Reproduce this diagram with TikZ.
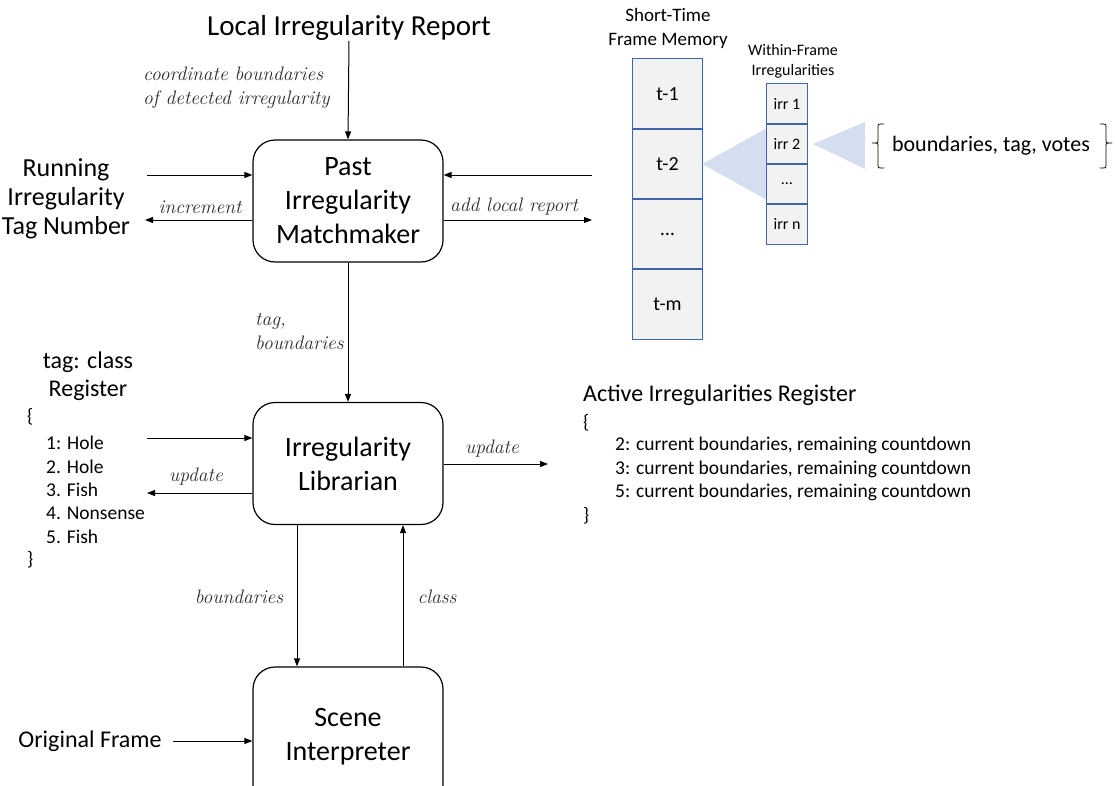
\documentclass[tikz,border=0pt]{standalone}
\usepackage{fontspec}
\setmainfont{Carlito}
\newfontfamily\handfont{Latin Modern Roman}
\usetikzlibrary{arrows.meta}
\definecolor{cellblue}{RGB}{64,100,170}
\definecolor{cellfill}{RGB}{242,242,242}
\definecolor{trifill}{RGB}{212,222,240}
\definecolor{handgray}{RGB}{45,45,45}
\tikzset{
  box/.style={draw, line width=1.2pt, rounded corners=22pt, minimum width=190pt,
    minimum height=122pt, align=center, font=\fontsize{28}{34}\selectfont, inner sep=0pt},
  arr/.style={-{Triangle[length=8pt,width=6pt]}, line width=1pt},
  lbl/.style={font=\fontsize{26}{29}\selectfont, align=center, inner sep=0pt},
  hand/.style={font=\handfont\itshape\fontsize{19.5}{24}\selectfont, text=handgray, align=left, inner sep=0pt},
  cell/.style={fill=cellfill, minimum width=69pt,
    minimum height=70pt, inner sep=0pt, font=\fontsize{20}{24}\selectfont},
  icell/.style={fill=cellfill, minimum width=40pt,
    minimum height=40pt, inner sep=0pt, font=\fontsize{16}{20}\selectfont},
  cellline/.style={draw=cellblue, line width=1.3pt},
  reg/.style={font=\fontsize{19.5}{23.5}\selectfont, anchor=west, inner sep=0pt},
  bracestyle/.style={line width=0.8pt, line cap=round, line join=round}
}
\begin{document}
\begin{tikzpicture}[x=1pt,y=-1pt]
\clip (0,0) rectangle (1115,785);
\useasboundingbox (0,0) rectangle (1115,785);

% main boxes
\node[box] (pim) at (348,201) {Past\\Irregularity\\Matchmaker};
\node[box] (pil) at (348,463.5) {Irregularity\\Librarian};
\node[box, minimum height=140pt] (psi) at (348,737) {Scene\\Interpreter};

% title
\node[lbl, font=\fontsize{29}{35}\selectfont] (lir) at (349,28) {Local Irregularity Report};
\draw[arr] (lir.south) -- (pim.north);
\node[hand, anchor=north west] (lab1) at (143,67) {coordinate boundaries\\of detected irregularity};

% running tag number
\node[lbl] (rit) at (66,199) {Running\\Irregularity\\Tag Number};
\coordinate (rin) at (147,175);
\coordinate (rout) at (145,220);
\draw[arr] (rin) -- (rin -| pim.west);
\draw[arr] (rout -| pim.west) -- (rout);
\node[hand] (linc) at (200,207) {increment};

% add local report
\coordinate (min) at (592,175);
\coordinate (mout) at (592,220);
\draw[arr] (min) -- (min -| pim.east);
\draw[arr] (mout -| pim.east) -- (mout);
\node[hand] (ladd) at (514,207) {add local report};

% matchmaker to librarian
\draw[arr] (pim.south) -- (pil.north);
\node[hand, anchor=west] (ltag) at (255,331) {tag,\\boundaries};

% left register
\node[lbl, font=\fontsize{24}{28}\selectfont] (tcr) at (88,376) {tag: class\\Register};
\node[reg] (lbo) at (27,417) {\{};
\node[reg] (r1) at (46,443) {1: Hole};
\node[reg] (r2) at (46,466.5) {2. Hole};
\node[reg] (r3) at (46,490) {3. Fish};
\node[reg] (r4) at (46,513.5) {4. Nonsense};
\node[reg] (r5) at (46,537) {5. Fish};
\node[reg] (lbc) at (27,560) {\}};
\coordinate (lin) at (147,438);
\coordinate (lout) at (147,493);
\draw[arr] (lin) -- (lin -| pil.west);
\draw[arr] (lout -| pil.west) -- (lout);
\node[hand] (lupd) at (196,477) {update};

% active register
\coordinate (aout) at (548,464);
\draw[arr] (aout -| pil.east) -- (aout);
\node[hand] (rupd) at (492,449) {update};
\node[reg, font=\fontsize{24}{28}\selectfont] (air) at (583,395) {Active Irregularities Register};
\node[reg] (abo) at (583,423) {\{};
\node[reg] (a1) at (615,445.5) {2: current boundaries, remaining countdown};
\node[reg] (a2) at (615,469) {3: current boundaries, remaining countdown};
\node[reg] (a3) at (615,492.5) {5: current boundaries, remaining countdown};
\node[reg] (abc) at (583,516) {\}};

% librarian <-> scene interpreter
\coordinate (bx) at (297,600);
\coordinate (cx) at (403,600);
\draw[arr] (bx |- pil.south) -- (bx |- psi.north);
\draw[arr] (cx |- psi.north) -- (cx |- pil.south);
\node[hand] (lbnd) at (239,597) {boundaries};
\node[hand] (lcls) at (437,597) {class};

% original frame
\node[lbl, font=\fontsize{24}{28}\selectfont] (orf) at (90,741) {Original Frame};
\coordinate (oin) at (173,741);
\draw[arr] (oin) -- (oin -| psi.west);

% short-time frame memory
\node[font=\fontsize{19}{24}\selectfont, align=center, inner sep=0pt] (stm) at (668,28) {Short-Time\\Frame Memory};
\node[cell] (m1) at (667.5,94) {t-1};
\node[cell] (m2) at (667.5,164) {t-2};
\node[cell] (m3) at (667.5,234) {\dots};
\node[cell] (m4) at (667.5,304) {t-m};
\foreach \c in {m1,m2,m3,m4} \draw[cellline] (\c.north west) rectangle (\c.south east);

% triangles
\fill[trifill] (m2.east) -- (767,128) -- (767,200) -- cycle;
\coordinate (tip2) at (813,144);
\fill[trifill] (tip2) -- (865,122) -- (865,169) -- cycle;

% within-frame irregularities
\node[font=\fontsize{16}{20}\selectfont, align=center, inner sep=0pt] (wfi) at (793,61) {Within-Frame\\Irregularities};
\node[icell] (w1) at (787,104) {irr 1};
\node[icell] (w2) at (787,144) {irr 2};
\node[icell] (w3) at (787,184) {\dots};
\node[icell] (w4) at (787,224) {irr n};
\foreach \c in {w1,w2,w3,w4} \draw[cellline] (\c.north west) rectangle (\c.south east);

% brace text
\node[font=\fontsize{22}{26}\selectfont, inner sep=0pt] (btv) at (991,146) {boundaries, tag, votes};
\draw[bracestyle] (884,124) -- (881,124) .. controls (878,124) .. (878,127) -- (878,140)
  .. controls (878,143) .. (872,143) .. controls (878,143) .. (878,146) -- (878,165)
  .. controls (878,168) .. (881,168) -- (884,168);
\draw[bracestyle] (1100,124) -- (1103,124) .. controls (1106,124) .. (1106,127) -- (1106,140)
  .. controls (1106,143) .. (1112,143) .. controls (1106,143) .. (1106,146) -- (1106,165)
  .. controls (1106,168) .. (1103,168) -- (1100,168);
\end{tikzpicture}
\end{document}
